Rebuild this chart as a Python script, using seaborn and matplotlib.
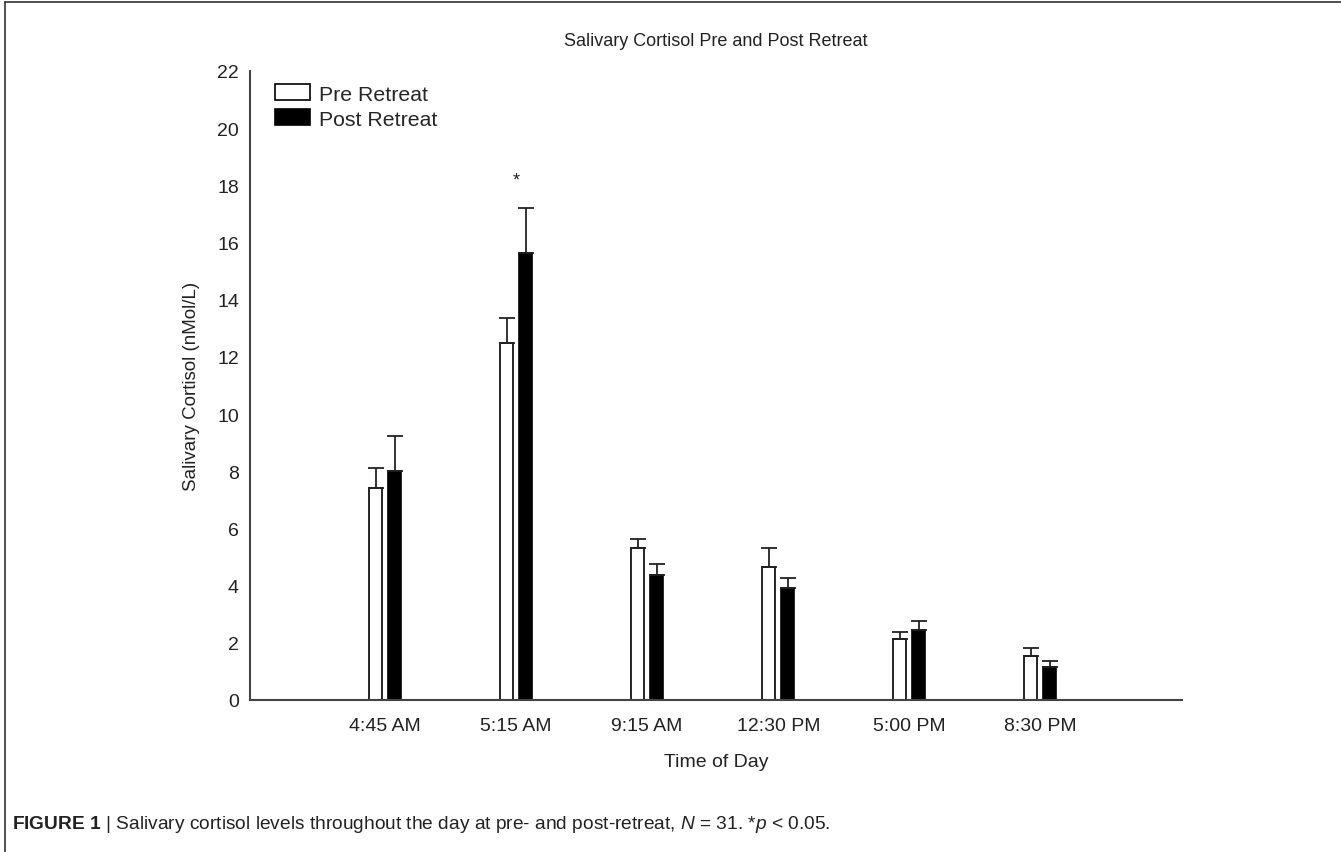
import numpy as np
import pandas as pd
import seaborn as sns
import matplotlib
matplotlib.use("Agg")
from matplotlib import pyplot as plt
from matplotlib import font_manager
from matplotlib.patches import Patch
from matplotlib.lines import Line2D

# Values (mean and upper SEM)
times = ["4:45 AM", "5:15 AM", "9:15 AM", "12:30 PM", "5:00 PM", "8:30 PM"]
groups = ["Pre Retreat", "Post Retreat"]
pre_mean = [7.41, 12.48, 5.32, 4.64, 2.14, 1.54]
pre_sem = [0.72, 0.89, 0.32, 0.68, 0.23, 0.28]
post_mean = [8.00, 15.65, 4.36, 3.90, 2.46, 1.17]
post_sem = [1.23, 1.55, 0.39, 0.35, 0.29, 0.20]
sig_time = "5:15 AM"  # significant difference marker
sig_level = 18.2

colors = {"Pre Retreat": "white", "Post Retreat": "black"}

df = pd.DataFrame({
    "time": times * 2,
    "group": [groups[0]] * len(times) + [groups[1]] * len(times),
    "cortisol": pre_mean + post_mean,
})

sns.set_theme(style="white")
plt.rcParams["font.family"] = ["Liberation Sans", "DejaVu Sans"]

# caption font: condensed if available
installed = {f.name for f in font_manager.fontManager.ttflist}
cap_font = "Liberation Sans Narrow" if "Liberation Sans Narrow" in installed else "Liberation Sans"
cap_size = 16 if cap_font == "Liberation Sans Narrow" else 13.8
plt.rcParams["mathtext.fontset"] = "custom"
plt.rcParams["mathtext.rm"] = cap_font
plt.rcParams["mathtext.it"] = cap_font + ":italic"
plt.rcParams["mathtext.bf"] = cap_font + ":bold"

fig = plt.figure(figsize=(13.41, 8.53), dpi=100)
ax = fig.add_axes([250 / 1341, 1 - 701 / 853, 932 / 1341, 629 / 853])

sns.barplot(
    data=df, x="time", y="cortisol", hue="group", order=times,
    hue_order=groups, palette=colors, edgecolor="black", linewidth=1.2,
    width=0.29, gap=0.31, errorbar=None, legend=False, ax=ax,
)

# one-sided (upper) error bars, drawn from the bar tops
for cont, sems in zip(ax.containers, [pre_sem, post_sem]):
    for bar, s in zip(cont, sems):
        xc = bar.get_x() + bar.get_width() / 2
        ax.errorbar(xc, bar.get_height(), yerr=[[0], [s]], fmt="none",
                    ecolor="#222222", elinewidth=1.3, capsize=5.5,
                    capthick=1.3)

ax.text(times.index(sig_time), sig_level, "*", ha="center", va="center",
        fontsize=13, color="#222222")

ax.set_ylim(0, 22)
ax.set_xlim(-1.03, 6.08)
ax.set_yticks(np.arange(0, 23, 2))
ax.tick_params(axis="both", length=0, labelsize=14, colors="#222222")
ax.tick_params(axis="y", pad=8)
ax.tick_params(axis="x", pad=12)
for side in ["top", "right"]:
    ax.spines[side].set_visible(False)
for side in ["left", "bottom"]:
    ax.spines[side].set_color("#444444")
    ax.spines[side].set_linewidth(1.5)

ax.set_xlabel("Time of Day", fontsize=14, color="#222222", labelpad=14)
ax.set_ylabel("Salivary Cortisol (nMol/L)", fontsize=13.5, color="#222222",
              labelpad=12)
ax.set_title("Salivary Cortisol Pre and Post Retreat", fontsize=13,
             color="#222222", pad=19)

handles = [Patch(facecolor=colors[g], edgecolor="black", linewidth=1.2)
           for g in groups]
ax.legend(handles, groups, loc="upper left", bbox_to_anchor=(0.027, 0.979),
          frameon=False, fontsize=15.3, borderpad=0, borderaxespad=0,
          handlelength=1.65, handleheight=0.8, handletextpad=0.4,
          labelspacing=0.25)

# figure frame (top and left edges)
fig.add_artist(Line2D([0.004, 1], [0.996, 0.996], color="#333333", lw=1.2,
                      transform=fig.transFigure))
fig.add_artist(Line2D([0.004, 0.004], [0, 0.996], color="#333333", lw=1.2,
                      transform=fig.transFigure))

fig.text(12 / 1341, 1 - 825 / 853,
         r"$\mathbf{FIGURE\ 1}$ | Salivary cortisol levels throughout the day "
         r"at pre- and post-retreat, $\mathit{N}$ = 31. *$\mathit{p}$ < 0.05.",
         fontsize=cap_size, family=cap_font, color="#222222",
         va="center", ha="left")

fig.savefig("out.png", dpi=100)
